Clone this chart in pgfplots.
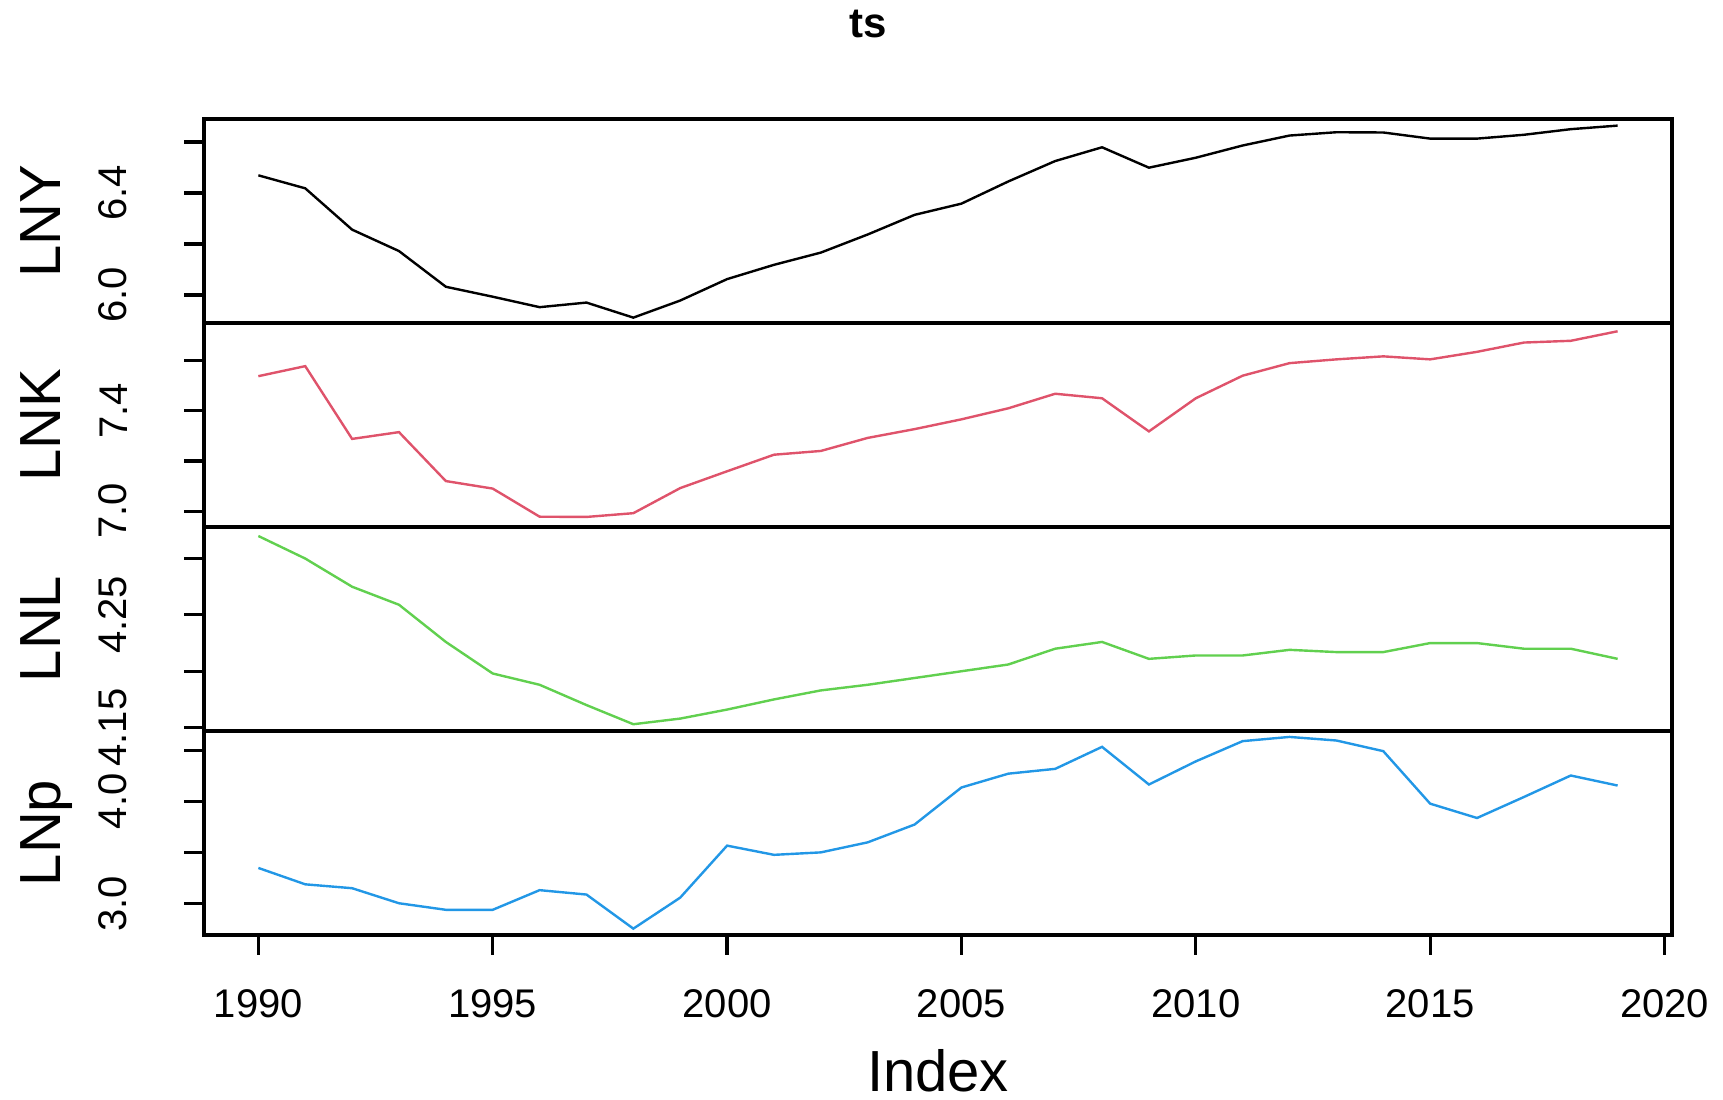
\documentclass[border=0pt]{standalone}
\usepackage{pgfplots}
\usepackage{pgfplotstable}
\pgfplotsset{compat=1.18}
\usepackage{fontspec}
\setmainfont{Liberation Sans}
\definecolor{rblack}{HTML}{000000}
\definecolor{rpink}{HTML}{DF536B}
\definecolor{rgreen}{HTML}{61D04F}
\definecolor{rblue}{HTML}{2297E6}

\pgfplotstableread{
year LNY LNK LNL LNp
1990 6.469 7.538 4.320 3.350
1991 6.418 7.578 4.300 3.190
1992 6.256 7.288 4.275 3.152
1993 6.172 7.315 4.259 3.005
1994 6.032 7.120 4.226 2.941
1995 5.993 7.090 4.198 2.941
1996 5.952 6.978 4.188 3.133
1997 5.970 6.977 4.170 3.090
1998 5.911 6.992 4.153 2.757
1999 5.978 7.092 4.158 3.060
2000 6.062 7.159 4.166 3.568
2001 6.118 7.225 4.175 3.478
2002 6.166 7.240 4.183 3.502
2003 6.237 7.292 4.188 3.600
2004 6.314 7.327 4.194 3.774
2005 6.358 7.366 4.200 4.136
2006 6.445 7.410 4.206 4.271
2007 6.525 7.468 4.220 4.318
2008 6.579 7.450 4.226 4.533
2009 6.499 7.318 4.211 4.165
2010 6.538 7.450 4.214 4.391
2011 6.586 7.540 4.214 4.589
2012 6.625 7.590 4.219 4.630
2013 6.638 7.605 4.217 4.595
2014 6.637 7.617 4.217 4.491
2015 6.613 7.605 4.225 3.978
2016 6.613 7.635 4.225 3.838
2017 6.628 7.672 4.220 4.043
2018 6.650 7.679 4.220 4.253
2019 6.664 7.717 4.211 4.155
}\data

\pgfplotsset{
  panel/.style={
    width=367pt, height=51pt, scale only axis,
    xmin=1988.84, xmax=2020.16,
    axis line style={line width=0.8pt},
    every tick/.style={black, line width=0.8pt},
    tick align=outside, major tick length=5pt,
    xtick=\empty,
    ytick pos=left,
    yticklabel style={xshift=-14pt, rotate=90, anchor=south, inner sep=0pt, font=\fontsize{10}{12}\selectfont},
    every axis y label/.style={at={(axis description cs:-0.0975,0.5)}, rotate=90, anchor=base, inner sep=0pt, font=\fontsize{14.5}{16}\selectfont},
    /pgf/number format/assume math mode=true,
  }
}

\begin{document}
\begin{tikzpicture}
\useasboundingbox (0,0) rectangle (430.75pt,275pt);

\begin{axis}[panel, at={(51pt,194.25pt)}, anchor=south west,
  ymin=5.89, ymax=6.69, ytick={6.0,6.2,6.4,6.6}, yticklabels={6.0,,6.4,},
  ylabel={LNY}]
\addplot[rblack, line width=0.6pt] table[x=year, y=LNY] {\data};
\end{axis}

\begin{axis}[panel, at={(51pt,143.25pt)}, anchor=south west,
  ymin=6.937, ymax=7.750, ytick={7.0,7.2,7.4,7.6}, yticklabels={7.0,,7.4,},
  ylabel={LNK}]
\addplot[rpink, line width=0.6pt] table[x=year, y=LNK] {\data};
\end{axis}

\begin{axis}[panel, at={(51pt,92.25pt)}, anchor=south west,
  ymin=4.147, ymax=4.328, ytick={4.15,4.20,4.25,4.30}, yticklabels={4.15,,4.25,},
  ylabel={LNL}]
\addplot[rgreen, line width=0.6pt] table[x=year, y=LNL] {\data};
\end{axis}

\begin{axis}[panel, at={(51pt,41.25pt)}, anchor=south west,
  ymin=2.695, ymax=4.688, ytick={3.0,3.5,4.0,4.5}, yticklabels={3.0,,4.0,},
  ylabel={LNp},
  xtick={1990,1995,2000,2005,2010,2015,2020},
  xticklabels={1990,1995,2000,2005,2010,2015,2020},
  xtick pos=bottom,
  xticklabel style={yshift=-8.5pt, anchor=north, inner sep=0pt, font=\fontsize{10}{12}\selectfont},
  xlabel={Index},
  every axis x label/.style={at={(axis description cs:0.5,-0.667)}, anchor=center, font=\fontsize{14.5}{16}\selectfont}]
\addplot[rblue, line width=0.6pt] table[x=year, y=LNp] {\data};
\end{axis}

\node[font=\bfseries\fontsize{10.5}{12}\selectfont] at (217pt,269pt) {ts};
\end{tikzpicture}
\end{document}
